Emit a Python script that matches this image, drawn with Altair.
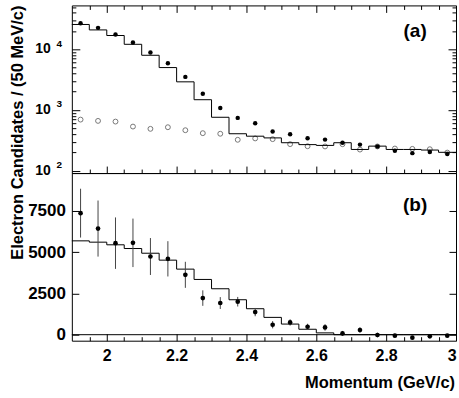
import altair as alt
import pandas as pd

# ---------------- data ----------------
momentum = [1.925, 1.975, 2.025, 2.075, 2.125, 2.175, 2.225, 2.275, 2.325, 2.375, 2.425,
            2.475, 2.525, 2.575, 2.625, 2.675, 2.725, 2.775, 2.825, 2.875, 2.925, 2.975]
bin_edges = [1.90, 1.95, 2.00, 2.05, 2.10, 2.15, 2.20, 2.25, 2.30, 2.35, 2.40, 2.45,
             2.50, 2.55, 2.60, 2.65, 2.70, 2.75, 2.80, 2.85, 2.90, 2.95, 3.00]

# panel (a): all candidates (filled), background (open), simulation histogram
top_data = [27000, 22600, 17600, 13000, 8900, 5890, 3510, 1850, 1080, 740, 603,
            440, 398, 342, 324, 288, 268, 250, 213, 194, 202, 187]
top_background = [693, 660, 643, 532, 488, 519, 463, 414, 405, 322, 339,
                  330, 273, 252, 250, 272, 222, 250, 231, 228, 225, 198]
top_mc = [25700, 20900, 16900, 12100, 7980, 5000, 2910, 1475, 757, 405, 369,
          346, 288, 268, 260, 288, 223, 253, 223, 223, 218, 200]

# panel (b): background-subtracted signal with errors, simulation histogram
bot_data = [7370, 6435, 5550, 5570, 4740, 4600, 3630, 2220, 1920, 2000, 1370,
            605, 745, 484, 442, 79, 284, -20, -60, -180, -100, -60]
bot_err = [1480, 1700, 1560, 1470, 1120, 1070, 790, 470, 360, 290, 250,
           220, 190, 180, 200, 150, 170, 140, 120, 90, 100, 100]
bot_mc = [5690, 5610, 5450, 5225, 4940, 4520, 3975, 3350, 2785, 2120, 1575,
          1050, 645, 330, 110, 0, 0, 0, 0, 0, 0, 0]

# tick values and labels
x_major = [2.0, 2.2, 2.4, 2.6, 2.8, 3.0]
x_minor = [1.95, 2.05, 2.1, 2.15, 2.25, 2.3, 2.35, 2.45, 2.5, 2.55, 2.65, 2.7,
           2.75, 2.85, 2.9, 2.95]
log_major = [100, 1000, 10000]
log_minor = [200, 300, 400, 500, 600, 700, 800, 900,
             2000, 3000, 4000, 5000, 6000, 7000, 8000, 9000,
             20000, 30000, 40000, 50000]
log_base = ["10", "10", "10"]
log_exp = ["2", "3", "4"]
lin_major = [0, 2500, 5000, 7500]

panel_labels = ["(a)", "(b)"]
label_x = [2.883, 2.883]
label_y = [19800, 7833]

Y_TITLE = "Electron Candidates / (50 MeV/c)"
X_TITLE = "Momentum (GeV/c)"

# ---------------- style ----------------
FONT = "Liberation Sans"
W, H = 385, 168

xs = alt.Scale(domain=[1.9, 3.0], nice=False, zero=False)
ys_top = alt.Scale(type="log", domain=[91, 53000], nice=False)
ys_bot = alt.Scale(domain=[-363, 9800], nice=False, zero=False)


def ax(orient, values, size, **kw):
    base = dict(orient=orient, values=values, tickSize=size, offset=-size,
                labels=False, domain=False, grid=False, title=None,
                tickColor="black", tickWidth=1)
    base.update(kw)
    return alt.Axis(**base)


# ---------------- panel (a) ----------------
hist_top_df = pd.DataFrame({"edge": bin_edges, "val": top_mc + [top_mc[-1]]})
pts_top = pd.DataFrame({"p": momentum, "data": top_data, "bkg": top_background})

open_top = alt.Chart(pts_top).mark_point(
    shape="circle", filled=False, size=24, color="#777777", strokeWidth=1, opacity=1
).encode(
    x=alt.X("p:Q", scale=xs, axis=ax("top", x_major, 7)),
    y=alt.Y("bkg:Q", scale=ys_top, axis=ax("right", log_major, 8)),
)
hist_top = alt.Chart(hist_top_df).mark_line(
    interpolate="step-after", color="black", strokeWidth=1
).encode(
    x=alt.X("edge:Q", scale=xs, axis=ax("bottom", x_major, 7)),
    y=alt.Y("val:Q", scale=ys_top, axis=ax("left", log_major, 8)),
)
filled_top = alt.Chart(pts_top).mark_circle(size=20, color="black", opacity=1).encode(
    x=alt.X("p:Q", scale=xs, axis=ax("bottom", x_minor, 4)),
    y=alt.Y("data:Q", scale=ys_top, axis=ax("left", log_minor, 4)),
)
label_a = alt.Chart(pd.DataFrame({"x": [label_x[0]], "y": [label_y[0]], "t": [panel_labels[0]]})).mark_text(
    font=FONT, fontWeight="bold", fontSize=19, align="center", baseline="middle", color="black"
).encode(
    x=alt.X("x:Q", scale=xs, axis=ax("top", x_minor, 4)),
    y=alt.Y("y:Q", scale=ys_top, axis=ax("right", log_minor, 4)),
    text="t:N",
)
ticklab = pd.DataFrame({"v": log_major, "base": log_base, "exp": log_exp})
base_txt = alt.Chart(ticklab).mark_text(
    font=FONT, fontWeight="bold", fontSize=14, align="right", baseline="middle", color="black"
).encode(x=alt.value(-21), y=alt.Y("v:Q", scale=ys_top, axis=None), text="base:N")
exp_txt = alt.Chart(ticklab).mark_text(
    font=FONT, fontWeight="bold", fontSize=10, align="left", baseline="middle", dy=-5.5, color="black"
).encode(x=alt.value(-15.5), y=alt.Y("v:Q", scale=ys_top, axis=None), text="exp:N")
ytitle = alt.Chart(pd.DataFrame({"t": [Y_TITLE]})).mark_text(
    font=FONT, fontWeight="bold", fontSize=16.5, angle=270, align="center", baseline="middle", color="black"
).encode(x=alt.value(-54), y=alt.value(127.5), text="t:N")

top = alt.layer(open_top, hist_top, filled_top, label_a, base_txt, exp_txt, ytitle).resolve_axis(
    x="independent", y="independent"
).properties(width=W, height=H)

# ---------------- panel (b) ----------------
hist_bot_df = pd.DataFrame({"edge": bin_edges, "val": bot_mc + [bot_mc[-1]]})
pts_bot = pd.DataFrame({
    "p": momentum,
    "sig": bot_data,
    "lo": [d - e for d, e in zip(bot_data, bot_err)],
    "hi": [d + e for d, e in zip(bot_data, bot_err)],
})

zero = alt.Chart(pd.DataFrame({"z": [0]})).mark_rule(color="black", strokeWidth=1).encode(
    y=alt.Y("z:Q", scale=ys_bot, axis=None)
)
hist_bot = alt.Chart(hist_bot_df).mark_line(
    interpolate="step-after", color="black", strokeWidth=1
).encode(
    x=alt.X("edge:Q", scale=xs, axis=ax("bottom", x_major, 7, labels=True, format="~g",
                                        labelFont=FONT, labelFontSize=16, labelFontWeight="bold",
                                        labelColor="black", labelPadding=6.5)),
    y=alt.Y("val:Q", scale=ys_bot, axis=ax("left", lin_major, 7, labels=True, format="d",
                                           labelFont=FONT, labelFontSize=17, labelFontWeight="bold",
                                           labelColor="black", labelPadding=6.5)),
)
err_bot = alt.Chart(pts_bot).mark_rule(color="#444444", strokeWidth=1).encode(
    x=alt.X("p:Q", scale=xs, axis=None),
    y=alt.Y("lo:Q", scale=ys_bot, axis=None),
    y2="hi:Q",
)
pts_b = alt.Chart(pts_bot).mark_circle(size=22, color="black", opacity=1).encode(
    x=alt.X("p:Q", scale=xs, axis=ax("bottom", x_minor, 4)),
    y=alt.Y("sig:Q", scale=ys_bot, axis=ax("right", lin_major, 7)),
)
label_b = alt.Chart(pd.DataFrame({"x": [label_x[1]], "y": [label_y[1]], "t": [panel_labels[1]]})).mark_text(
    font=FONT, fontWeight="bold", fontSize=19, align="center", baseline="middle", color="black"
).encode(
    x=alt.X("x:Q", scale=xs, axis=None),
    y=alt.Y("y:Q", scale=ys_bot, axis=None),
    text="t:N",
)
xtitle = alt.Chart(pd.DataFrame({"t": [X_TITLE]})).mark_text(
    font=FONT, fontWeight="bold", fontSize=16.5, align="right", baseline="alphabetic", color="black"
).encode(x=alt.value(384), y=alt.value(215), text="t:N")

bottom = alt.layer(zero, hist_bot, err_bot, pts_b, label_b, xtitle).resolve_axis(
    x="independent", y="independent"
).properties(width=W, height=H)

chart = alt.vconcat(top, bottom, spacing=0).properties(
    bounds="flush",
    padding={"left": 9, "top": 4, "right": 0, "bottom": 5},
    background="white",
).configure_view(stroke="black", strokeWidth=1)

chart.save("out.html", embed_options={"renderer": "svg", "actions": False})
